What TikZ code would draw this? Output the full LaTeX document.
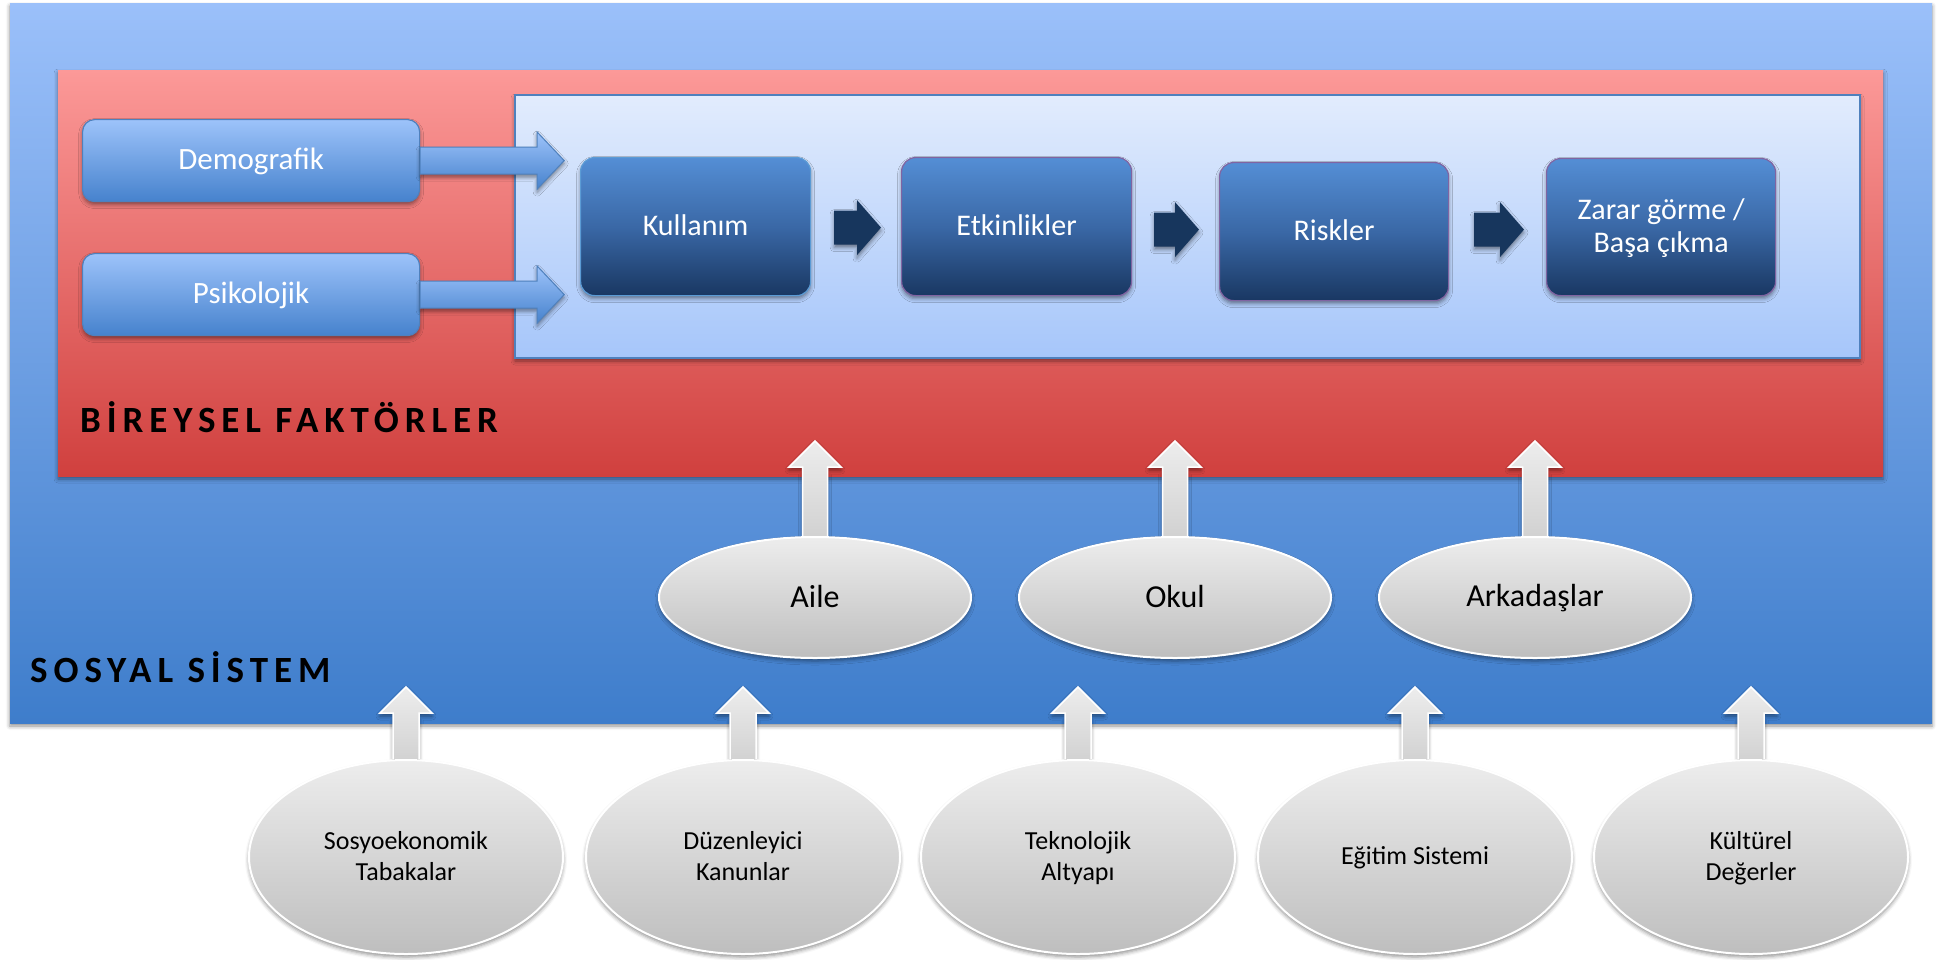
\documentclass[tikz,border=0pt]{standalone}
\usepackage{fontspec}
\setmainfont{Carlito}
\newfontfamily\hdrfont{Carlito}[LetterSpace=16]
\usetikzlibrary{shapes.geometric,shadows.blur,calc}

\definecolor{bgtop}{RGB}{155,192,250}
\definecolor{bgbot}{RGB}{62,125,203}
\definecolor{redtop}{RGB}{252,153,152}
\definecolor{redbot}{RGB}{208,64,62}
\definecolor{intop}{RGB}{226,236,253}
\definecolor{inbot}{RGB}{166,198,250}
\definecolor{bordblue}{RGB}{79,129,189}
\definecolor{kulbord}{RGB}{91,155,213}
\definecolor{ltop}{RGB}{157,195,250}
\definecolor{lbot}{RGB}{70,130,205}
\definecolor{dtop}{RGB}{84,142,213}
\definecolor{dmid}{RGB}{58,104,166}
\definecolor{dbot}{RGB}{25,55,98}
\definecolor{purp}{RGB}{128,100,162}
\definecolor{navy}{RGB}{23,54,93}
\definecolor{gtop}{RGB}{237,237,237}
\definecolor{gbot}{RGB}{190,190,190}
\definecolor{garrbot}{RGB}{208,208,208}

% strut for even vertical centring of text lines
\newcommand\ts{\rule[-0.15em]{0pt}{0.9em}}

% horizontal block arrow: style, start, tip, shaft half, head half, head length
\newcommand\hblockarrow[6]{%
  \path[#1] ($(#2)+(0,-#4)$) -- ($(#3 |- #2)+(-#6,-#4)$) -- ($(#3 |- #2)+(-#6,-#5)$)
    -- (#3 |- #2) -- ($(#3 |- #2)+(-#6,#5)$) -- ($(#3 |- #2)+(-#6,#4)$)
    -- ($(#2)+(0,#4)$) -- cycle;}
% vertical (upward) block arrow: style, start (bottom), tip, shaft half, head half, head length
\newcommand\vblockarrow[6]{%
  \path[#1] ($(#2)+(-#4,0)$) -- ($(#2 |- #3)+(-#4,#6)$) -- ($(#2 |- #3)+(-#5,#6)$)
    -- (#2 |- #3) -- ($(#2 |- #3)+(#5,#6)$) -- ($(#2 |- #3)+(#4,#6)$)
    -- ($(#2)+(#4,0)$) -- cycle;}

\begin{document}
\begin{tikzpicture}[x=1pt,y=-1pt,
  shadowed/.style={blur shadow={shadow xshift=0pt,shadow yshift=-3pt,shadow blur radius=4pt,shadow opacity=45}},
  panel/.style={rectangle, anchor=north west, inner sep=0pt, outer sep=0pt},
  lightbox/.style={rectangle, rounded corners=12pt, minimum width=337pt, minimum height=82pt, anchor=north west, top color=ltop, bottom color=lbot, draw=bordblue, line width=1.2pt, text=white, font=\fontsize{31}{37}\selectfont, shadowed},
  darkbox/.style={rectangle, rounded corners=14pt, minimum width=230pt, minimum height=138pt, anchor=north west, top color=dtop, bottom color=dbot, middle color=dmid, draw=purp, line width=1.2pt, text=white, align=center, font=\fontsize{30}{33}\selectfont, shadowed},
  midell/.style={ellipse, anchor=north, minimum width=312pt, minimum height=121pt, inner sep=0pt, top color=gtop, bottom color=gbot, draw=white, line width=2pt, font=\fontsize{32}{38}\selectfont, shadowed},
  lowell/.style={ellipse, anchor=north, minimum width=314pt, minimum height=194pt, inner sep=0pt, top color=gtop, bottom color=gbot, draw=white, line width=2pt, align=center, font=\fontsize{26}{31}\selectfont, shadowed},
  bluearrow/.style={top color=ltop, bottom color=lbot, draw=bordblue, line width=1pt, shadowed},
  navyarrow/.style={fill=navy, shadowed},
  grayarrow/.style={top color=gtop, bottom color=garrbot, draw=white, line width=1.5pt, shadowed},
  hdr/.style={anchor=base west, inner sep=0pt, font=\hdrfont\bfseries\fontsize{37}{44}\selectfont}
]
\useasboundingbox (0,0) rectangle (1943,959);

% panels
\node[panel, minimum width=1922pt, minimum height=720pt, top color=bgtop, bottom color=bgbot, shadowed] (sosyal) at (10,3) {};
\node[panel, minimum width=1825pt, minimum height=406pt, top color=redtop, bottom color=redbot, shadowed] (birey) at (58,70) {};
\node[panel, minimum width=1345pt, minimum height=263pt, top color=intop, bottom color=inbot, draw=bordblue, line width=1.2pt, shadowed] (inner) at (515,95) {};

% titles
\node[hdr] (birtitle) at (80,432) {BİREYSEL FAKTÖRLER};
\node[hdr] (sostitle) at (30,682) {SOSYAL SİSTEM};

% left input boxes
\node[lightbox] (demo) at (82,119) {\ts Demografik};
\node[lightbox] (psiko) at (82,253) {\ts Psikolojik};

% blue arrows
\coordinate (dtip) at ($(demo.east)+(144,0)$);
\coordinate (ptip) at ($(psiko.east)+(144,0)$);
\hblockarrow{bluearrow}{demo.east}{dtip}{13.5}{28.5}{27}
\hblockarrow{bluearrow}{psiko.east}{ptip}{13.5}{28.5}{27}

% process boxes
\node[darkbox, draw=kulbord] (kul) at (580,157) {\ts Kullanım};
\node[darkbox] (etk) at (901,157) {\ts Etkinlikler};
\node[darkbox, minimum width=229pt] (risk) at (1219,162) {\ts Riskler};
\node[darkbox, minimum width=229pt, minimum height=137pt] (zarar) at (1546,158) {\ts Zarar görme /\\\ts Başa çıkma};

% navy arrows
\coordinate (a1s) at ($(kul.east)+(23,1)$);
\coordinate (a1t) at ($(etk.west)+(-20,0)$);
\coordinate (a2s) at ($(etk.east)+(22,3)$);
\coordinate (a2t) at ($(risk.west)+(-20,0)$);
\coordinate (a3s) at ($(risk.east)+(25,-2)$);
\coordinate (a3t) at ($(zarar.west)+(-22,0)$);
\hblockarrow{navyarrow}{a1s}{a1t}{17}{27.5}{24}
\hblockarrow{navyarrow}{a2s}{a2t}{17}{27.5}{24}
\hblockarrow{navyarrow}{a3s}{a3t}{17}{27.5}{24}

% middle row: arrows, then ellipses
\coordinate (aileTop) at (815,536);
\coordinate (okulTop) at (1175,536);
\coordinate (arkTop) at (1535,536);
\coordinate (aileBase) at (815,541);
\coordinate (okulBase) at (1175,541);
\coordinate (arkBase) at (1535,541);
\coordinate (aileTip) at ($(aileTop)+(0,-95)$);
\coordinate (okulTip) at ($(okulTop)+(0,-95)$);
\coordinate (arkTip) at ($(arkTop)+(0,-95)$);
\vblockarrow{grayarrow}{aileBase}{aileTip}{12.5}{26}{26}
\vblockarrow{grayarrow}{okulBase}{okulTip}{12.5}{26}{26}
\vblockarrow{grayarrow}{arkBase}{arkTip}{12.5}{26}{26}
\node[midell] (aile) at (aileTop) {\ts Aile};
\node[midell] (okul) at (okulTop) {\ts Okul};
\node[midell] (arkadas) at (arkTop) {\ts Arkadaşlar};

% bottom row: arrows, then circles
\coordinate (sosyoTop) at (406,759);
\coordinate (duzTop) at (743,759);
\coordinate (tekTop) at (1078,759);
\coordinate (egiTop) at (1415,759);
\coordinate (kultTop) at (1751,759);
\coordinate (sosyoBase) at (406,764);
\coordinate (duzBase) at (743,764);
\coordinate (tekBase) at (1078,764);
\coordinate (egiBase) at (1415,764);
\coordinate (kultBase) at (1751,764);
\coordinate (sosyoTip) at ($(sosyoTop)+(0,-72)$);
\coordinate (duzTip) at ($(duzTop)+(0,-72)$);
\coordinate (tekTip) at ($(tekTop)+(0,-72)$);
\coordinate (egiTip) at ($(egiTop)+(0,-72)$);
\coordinate (kultTip) at ($(kultTop)+(0,-72)$);
\vblockarrow{grayarrow}{sosyoBase}{sosyoTip}{13}{26}{26}
\vblockarrow{grayarrow}{duzBase}{duzTip}{13}{26}{26}
\vblockarrow{grayarrow}{tekBase}{tekTip}{13}{26}{26}
\vblockarrow{grayarrow}{egiBase}{egiTip}{13}{26}{26}
\vblockarrow{grayarrow}{kultBase}{kultTip}{13}{26}{26}
\node[lowell] (sosyo) at (sosyoTop) {\ts Sosyoekonomik\\\ts Tabakalar};
\node[lowell] (duz) at (duzTop) {\ts Düzenleyici\\\ts Kanunlar};
\node[lowell] (tek) at (tekTop) {\ts Teknolojik\\\ts Altyapı};
\node[lowell] (egi) at (egiTop) {\ts Eğitim Sistemi};
\node[lowell] (kult) at (kultTop) {\ts Kültürel\\\ts Değerler};
\end{tikzpicture}
\end{document}
